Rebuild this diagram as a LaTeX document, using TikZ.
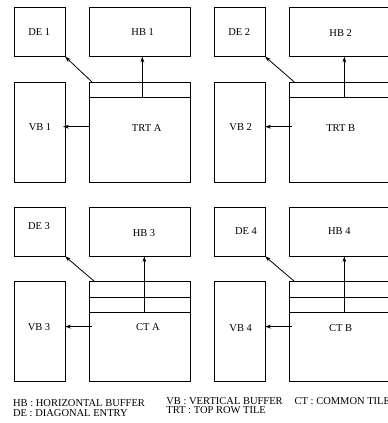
\documentclass[tikz,border=0pt]{standalone}
\usepackage{fontspec}
\setmainfont{Liberation Serif}
\usetikzlibrary{calc,arrows.meta}

\begin{document}
\begin{tikzpicture}[x=1pt, y=-1pt, >={Stealth[length=6pt,width=3.8pt]}, line width=0.8pt,
        box/.style={draw, rectangle, inner sep=0pt, outer sep=0pt},
        smallbox/.style={box, minimum width=50.7pt, minimum height=49pt},
        widebox/.style={box, minimum width=100.7pt, minimum height=49pt},
        tallbox/.style={box, minimum width=50.7pt, minimum height=100pt},
        tilebox/.style={box, minimum width=100.7pt, minimum height=100pt},
        lbl/.style={inner sep=0pt, font=\fontsize{10.5}{12}\selectfont},
        key/.style={lbl, anchor=west}]

        \useasboundingbox (0,0) rectangle (388,423);
        \clip (0,0) rectangle (388,423);

        % Cajas - fila superior
        \node[smallbox] (de1) at (39.65,32) {};
        \node[widebox] (hb1) at (139.65,32) {};
        \node[tallbox] (vb1) at (39.65,132) {};
        \node[tilebox] (trtA) at (139.65,132) {};

        \node[smallbox] (de2) at (239.65,32) {};
        \node[widebox] (hb2) at (339.65,32) {};
        \node[tallbox] (vb2) at (239.65,132) {};
        \node[tilebox] (trtB) at (339.65,132) {};

        % Cajas - fila inferior
        \node[smallbox] (de3) at (39.65,231.7) {};
        \node[widebox] (hb3) at (139.65,231.7) {};
        \node[tallbox] (vb3) at (39.65,331.3) {};
        \node[tilebox] (ctA) at (139.65,331.3) {};

        \node[smallbox] (de4) at (239.65,231.7) {};
        \node[widebox] (hb4) at (339.65,231.7) {};
        \node[tallbox] (vb4) at (239.65,331.3) {};
        \node[tilebox] (ctB) at (339.65,331.3) {};

        % Filas dentro de los tiles
        \draw ($(trtA.north west)+(0,15)$) -- ($(trtA.north east)+(0,15)$);
        \draw ($(trtB.north west)+(0,15)$) -- ($(trtB.north east)+(0,15)$);
        \draw ($(ctA.north west)+(0,15.7)$) -- ($(ctA.north east)+(0,15.7)$);
        \draw ($(ctA.north west)+(0,30.7)$) -- ($(ctA.north east)+(0,30.7)$);
        \draw ($(ctB.north west)+(0,15.7)$) -- ($(ctB.north east)+(0,15.7)$);
        \draw ($(ctB.north west)+(0,30.7)$) -- ($(ctB.north east)+(0,30.7)$);

        % Textos
        \node[lbl] (tde1) at (39.3,32.3) {DE 1};
        \node[lbl] (thb1) at (142.7,32.3) {HB 1};
        \node[lbl] (tvb1) at (40,126.7) {VB 1};
        \node[lbl] (ttrtA) at (146.7,128.3) {TRT A};
        \node[lbl] (tde2) at (239.3,31.7) {DE 2};
        \node[lbl] (thb2) at (340.7,33.3) {HB 2};
        \node[lbl] (tvb2) at (240.7,126.7) {VB 2};
        \node[lbl] (ttrtB) at (340.7,128.3) {TRT B};
        \node[lbl] (tde3) at (39,225.7) {DE 3};
        \node[lbl] (thb3) at (144,233.3) {HB 3};
        \node[lbl] (tvb3) at (39,326.7) {VB 3};
        \node[lbl] (tctA) at (148,326.7) {CT A};
        \node[lbl] (tde4) at (246,230.7) {DE 4};
        \node[lbl] (thb4) at (339.3,230.7) {HB 4};
        \node[lbl] (tvb4) at (240.7,328.3) {VB 4};
        \node[lbl] (tctB) at (340.7,328.3) {CT B};

        % Conexiones
        \draw[->] ($(trtA.north)+(2.7,15)$) -- ($(hb1.south)+(2.7,0)$);
        \draw[->] ($(trtA.north west)+(2.7,0)$) -- (de1.south east);
        \draw[->] ($(trtA.west)+(0,-5.3)$) -- ($(vb1.east)+(-2,-5.3)$);

        \draw[->] ($(trtB.north)+(4.7,15)$) -- ($(hb2.south)+(4.7,0)$);
        \draw[->] ($(trtB.north west)+(5,0)$) -- (de2.south east);
        \draw[->] ($(trtB.west)+(2.4,-5.3)$) -- ($(vb2.east)+(0,-5.3)$);

        \draw[->] ($(ctA.north)+(4.7,30.7)$) -- ($(hb3.south)+(4.7,0)$);
        \draw[->] ($(ctA.north west)+(5,0)$) -- (de3.south east);
        \draw[->] ($(ctA.west)+(2.7,-4.7)$) -- ($(vb3.east)+(0,-4.7)$);

        \draw[->] ($(ctB.north)+(4.7,30.7)$) -- ($(hb4.south)+(4.7,0)$);
        \draw[->] ($(ctB.north west)+(5,0)$) -- (de4.south east);
        \draw[->] ($(ctB.west)+(2.4,-4.7)$) -- ($(vb4.east)+(0,-4.7)$);

        % Leyenda
        \node[key] (kHB) at (12.7,403.3) {HB : HORIZONTAL BUFFER};
        \node[key] (kDE) at (12.7,413.3) {DE : DIAGONAL ENTRY};
        \node[key] (kVB) at (166,400.7) {VB : VERTICAL BUFFER};
        \node[key] (kTRT) at (166,410) {TRT : TOP ROW TILE};
        \node[key] (kCT) at (294.3,400.7) {CT : COMMON TILE};

    \end{tikzpicture}
\end{document}
